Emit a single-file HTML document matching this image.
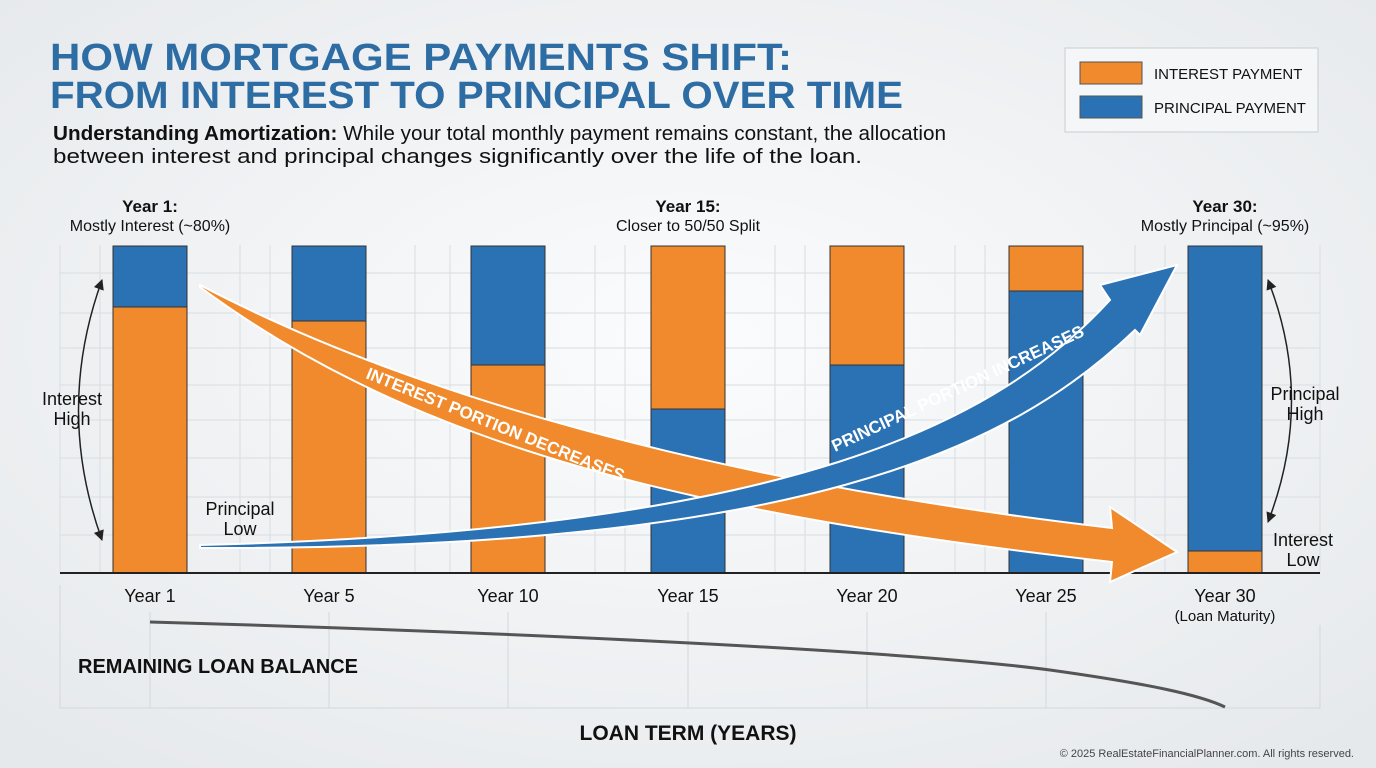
<!DOCTYPE html>
<html><head><meta charset="utf-8"><style>
html,body{margin:0;width:1376px;height:768px;overflow:hidden;background:#eceff2;font-family:"Liberation Sans",sans-serif}
svg{display:block}
</style></head><body>
<svg width="1376" height="768" viewBox="0 0 1376 768" xmlns="http://www.w3.org/2000/svg" font-family="Liberation Sans, sans-serif">
<defs>
<radialGradient id="bg" cx="50%" cy="45%" r="70%"><stop offset="0" stop-color="#fbfcfd"/><stop offset="1" stop-color="#e6e9ec"/></radialGradient>
<marker id="ah" viewBox="0 0 10 10" refX="9" refY="5" markerWidth="7" markerHeight="7" orient="auto-start-reverse"><path d="M0 0 L10 5 L0 10 Z" fill="#222"/></marker>
</defs>
<rect width="1376" height="768" fill="url(#bg)"/>
<g stroke="#d9dde2" stroke-width="1">
<line x1="60" y1="273" x2="1320" y2="273"/><line x1="60" y1="313" x2="1320" y2="313"/>
<line x1="60" y1="348" x2="1320" y2="348"/><line x1="60" y1="385" x2="1320" y2="385"/>
<line x1="60" y1="420" x2="1320" y2="420"/><line x1="60" y1="458" x2="1320" y2="458"/>
<line x1="60" y1="497" x2="1320" y2="497"/><line x1="60" y1="535" x2="1320" y2="535"/>
<line x1="60" y1="245" x2="60" y2="573"/><line x1="100" y1="245" x2="100" y2="573"/>
<line x1="240" y1="245" x2="240" y2="573"/><line x1="270" y1="245" x2="270" y2="573"/>
<line x1="415" y1="245" x2="415" y2="573"/><line x1="450" y1="245" x2="450" y2="573"/>
<line x1="595" y1="245" x2="595" y2="573"/><line x1="625" y1="245" x2="625" y2="573"/>
<line x1="775" y1="245" x2="775" y2="573"/><line x1="805" y1="245" x2="805" y2="573"/>
<line x1="955" y1="245" x2="955" y2="573"/><line x1="985" y1="245" x2="985" y2="573"/>
<line x1="1135" y1="245" x2="1135" y2="573"/><line x1="1165" y1="245" x2="1165" y2="573"/>
<line x1="1320" y1="245" x2="1320" y2="573"/>
</g>
<text x="50" y="70" font-size="38" font-weight="bold" fill="#2e6da4" textLength="742" lengthAdjust="spacingAndGlyphs">HOW MORTGAGE PAYMENTS SHIFT:</text>
<text x="50" y="108" font-size="38" font-weight="bold" fill="#2e6da4" textLength="853" lengthAdjust="spacingAndGlyphs">FROM INTEREST TO PRINCIPAL OVER TIME</text>
<text x="53" y="140" font-size="20" fill="#111" textLength="893" lengthAdjust="spacingAndGlyphs"><tspan font-weight="bold">Understanding Amortization:</tspan> While your total monthly payment remains constant, the allocation</text>
<text x="53" y="163" font-size="20" fill="#111" textLength="809" lengthAdjust="spacingAndGlyphs">between interest and principal changes significantly over the life of the loan.</text>
<rect x="1065" y="48" width="253" height="84" fill="#f4f6f8" stroke="#c9cdd2"/>
<rect x="1080" y="62" width="62" height="22" fill="#f08a2c" stroke="#555"/>
<rect x="1080" y="96" width="62" height="22" fill="#2b72b5" stroke="#555"/>
<text x="1154" y="79" font-size="15" fill="#111">INTEREST PAYMENT</text>
<text x="1154" y="113" font-size="15" fill="#111">PRINCIPAL PAYMENT</text>
<g font-size="16" fill="#111" text-anchor="middle">
<text x="150" y="212" font-weight="bold" font-size="17">Year 1:</text><text x="150" y="231">Mostly Interest (~80%)</text>
<text x="688" y="212" font-weight="bold" font-size="17">Year 15:</text><text x="688" y="231">Closer to 50/50 Split</text>
<text x="1225" y="212" font-weight="bold" font-size="17">Year 30:</text><text x="1225" y="231">Mostly Principal (~95%)</text>
</g>
<g stroke="#333" stroke-width="1">
<rect x="113" y="246" width="74" height="61" fill="#2b72b5"/><rect x="113" y="307" width="74" height="266" fill="#f08a2c"/>
<rect x="292" y="246" width="74" height="75" fill="#2b72b5"/><rect x="292" y="321" width="74" height="252" fill="#f08a2c"/>
<rect x="471" y="246" width="74" height="119" fill="#2b72b5"/><rect x="471" y="365" width="74" height="208" fill="#f08a2c"/>
<rect x="651" y="246" width="74" height="163" fill="#f08a2c"/><rect x="651" y="409" width="74" height="164" fill="#2b72b5"/>
<rect x="830" y="246" width="74" height="119" fill="#f08a2c"/><rect x="830" y="365" width="74" height="208" fill="#2b72b5"/>
<rect x="1009" y="246" width="74" height="45" fill="#f08a2c"/><rect x="1009" y="291" width="74" height="282" fill="#2b72b5"/>
<rect x="1188" y="246" width="74" height="305" fill="#2b72b5"/><rect x="1188" y="551" width="74" height="22" fill="#f08a2c"/>
</g>
<line x1="60" y1="573" x2="1320" y2="573" stroke="#222" stroke-width="2"/>
<path d="M200 285 C400 390 700 480 1112 528 L1110 507 L1177 552 L1110 582 L1112 562 C700 515 420 450 200 287 Z" fill="#f08a2c" stroke="#fff" stroke-width="2"/>
<path d="M200 545 C800 530 1000 420 1110 300 L1100 285 L1177 265 L1140 335 L1135 330 C1010 450 800 550 200 548 Z" fill="#2b72b5" stroke="#fff" stroke-width="2"/>
<text font-size="17" font-weight="bold" fill="#fff" transform="translate(365,378) rotate(22)">INTEREST PORTION DECREASES</text>
<text font-size="17" font-weight="bold" fill="#fff" transform="translate(835,452) rotate(-25)">PRINCIPAL PORTION INCREASES</text>
<g fill="none" stroke="#222" stroke-width="1.5">
<path d="M102 280 Q55 410 102 540" marker-start="url(#ah)" marker-end="url(#ah)"/>
<path d="M1268 280 Q1315 400 1268 522" marker-start="url(#ah)" marker-end="url(#ah)"/>
</g>
<g font-size="18" fill="#111" text-anchor="middle">
<text x="72" y="405">Interest</text><text x="72" y="425">High</text>
<text x="240" y="515">Principal</text><text x="240" y="535">Low</text>
<text x="1305" y="400">Principal</text><text x="1305" y="420">High</text>
<text x="1303" y="546">Interest</text><text x="1303" y="566">Low</text>
</g>
<g font-size="18" fill="#111" text-anchor="middle">
<text x="150" y="602">Year 1</text><text x="329" y="602">Year 5</text><text x="508" y="602">Year 10</text>
<text x="688" y="602">Year 15</text><text x="867" y="602">Year 20</text><text x="1046" y="602">Year 25</text>
<text x="1225" y="602">Year 30</text><text x="1225" y="621" font-size="15">(Loan Maturity)</text>
</g>
<g stroke="#d3d7dc" fill="none">
<path d="M60 585 V708 H1320 V625"/>
<line x1="150" y1="612" x2="150" y2="708"/><line x1="329" y1="612" x2="329" y2="708"/>
<line x1="508" y1="612" x2="508" y2="708"/><line x1="688" y1="612" x2="688" y2="708"/>
<line x1="867" y1="612" x2="867" y2="708"/><line x1="1046" y1="612" x2="1046" y2="708"/>
</g>
<path d="M150 622 C500 632 900 650 1050 670 C1150 684 1200 695 1225 707" fill="none" stroke="#555" stroke-width="3"/>
<text x="78" y="673" font-size="20" font-weight="bold" fill="#111">REMAINING LOAN BALANCE</text>
<text x="688" y="740" font-size="21" font-weight="bold" fill="#111" text-anchor="middle">LOAN TERM (YEARS)</text>
<text x="1354" y="757" font-size="11" fill="#444" text-anchor="end">© 2025 RealEstateFinancialPlanner.com. All rights reserved.</text>
</svg>
</body></html>
